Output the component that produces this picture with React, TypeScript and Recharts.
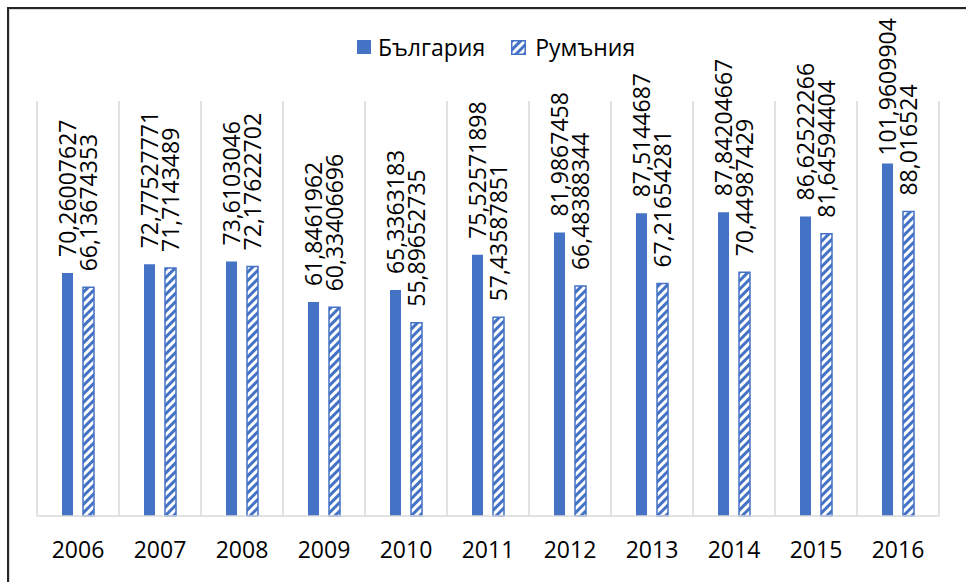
import React from "react"
import {
  BarChart,
  Bar,
  XAxis,
  YAxis,
  CartesianGrid,
  LabelList,
} from "recharts"

const YEARS = ["2006", "2007", "2008", "2009", "2010", "2011", "2012", "2013", "2014", "2015", "2016"]

const BULGARIA = [
  70.26007627, 72.77527771, 73.6103046, 61.8461962, 65.3363183, 75.52571898,
  81.9867458, 87.5144687, 87.84204667, 86.62522266, 101.9609904,
]

const ROMANIA = [
  66.13674353, 71.7143489, 72.17622702, 60.33406696, 55.89652735, 57.43587851,
  66.48388344, 67.21654281, 70.44987429, 81.64594404, 88.016524,
]

const SERIES_NAMES = ["България", "Румъния"]

const BLUE = "#4472C4"
const FONT = "'Open Sans', 'Liberation Sans', sans-serif"

const chartData = YEARS.map((year, i) => ({
  year,
  bg: BULGARIA[i],
  ro: ROMANIA[i],
}))

const formatValue = (v: number) => String(v).replace(".", ",")

// rotated value label sitting above the bar; pushed down if it would leave the frame
function RotatedLabel(props: any) {
  const { x, y, width, value } = props
  const text = formatValue(value)
  const approxLen = text.length * 12.6
  const cx = Number(x) + Number(width) / 2
  const cy = Math.max(Number(y) - 16, 17 + approxLen)
  return (
    <text
      x={cx}
      y={cy}
      transform={`rotate(-90, ${cx}, ${cy})`}
      textAnchor="start"
      dominantBaseline="central"
      fontSize={23}
      fontFamily={FONT}
      fill="#000"
    >
      {text}
    </text>
  )
}

function ChartLegend() {
  return (
    <div
      style={{
        position: "absolute",
        left: 357,
        top: 31,
        display: "flex",
        alignItems: "center",
        fontFamily: FONT,
        fontSize: 23,
        color: "#000",
      }}
    >
      <span style={{ width: 14, height: 14, background: BLUE, display: "inline-block", marginRight: 7 }} />
      <span style={{ marginRight: 26 }}>{SERIES_NAMES[0]}</span>
      <svg width={15} height={15} style={{ marginRight: 9 }}>
        <rect x={0.75} y={0.75} width={13.5} height={13.5} fill="url(#stripes)" stroke={BLUE} strokeWidth={1.5} />
      </svg>
      <span>{SERIES_NAMES[1]}</span>
    </div>
  )
}

export default function App() {
  return (
    <div
      style={{
        position: "absolute",
        left: 0,
        top: 0,
        width: 966,
        height: 582,
        background: "#fff",
        overflow: "hidden",
      }}
    >
      <div
        style={{
          position: "absolute",
          left: 7,
          top: 7,
          right: 0,
          bottom: 0,
          borderTop: "2px solid #262626",
          borderLeft: "2px solid #262626",
          boxShadow: "inset 1px 1px 0 #d9d9d9",
        }}
      />
      <div style={{ position: "absolute", left: 0, top: 0 }}>
        <BarChart
          width={966}
          height={582}
          data={chartData}
          margin={{ top: 101, right: 27, left: 37, bottom: 26 }}
          barSize={11}
          barGap={10}
        >
          <defs>
            <pattern
              id="stripes"
              patternUnits="userSpaceOnUse"
              width={6}
              height={6}
              patternTransform="rotate(45)"
            >
              <rect x={0} y={0} width={6} height={6} fill="#fff" />
              <rect x={0} y={0} width={3} height={6} fill={BLUE} />
            </pattern>
          </defs>
          <CartesianGrid
            horizontal={false}
            stroke="#d9d9d9"
            strokeWidth={1.5}
            verticalCoordinatesGenerator={({ offset }: any) =>
              YEARS.concat([""]).map((_, i) => offset.left + (i * offset.width) / YEARS.length)
            }
          />
          <XAxis
            dataKey="year"
            height={40}
            tickLine={false}
            axisLine={{ stroke: "#d9d9d9", strokeWidth: 1.5 }}
            tickMargin={20}
            tick={{ fill: "#000", fontSize: 23, fontFamily: FONT }}
            interval={0}
          />
          <YAxis hide domain={[0, 120]} />
          <Bar dataKey="bg" name={SERIES_NAMES[0]} fill={BLUE} isAnimationActive={false}>
            <LabelList dataKey="bg" content={<RotatedLabel />} />
          </Bar>
          <Bar
            dataKey="ro"
            name={SERIES_NAMES[1]}
            fill="url(#stripes)"
            stroke={BLUE}
            strokeWidth={1.5}
            isAnimationActive={false}
          >
            <LabelList dataKey="ro" content={<RotatedLabel />} />
          </Bar>
        </BarChart>
      </div>
      <ChartLegend />
    </div>
  )
}
